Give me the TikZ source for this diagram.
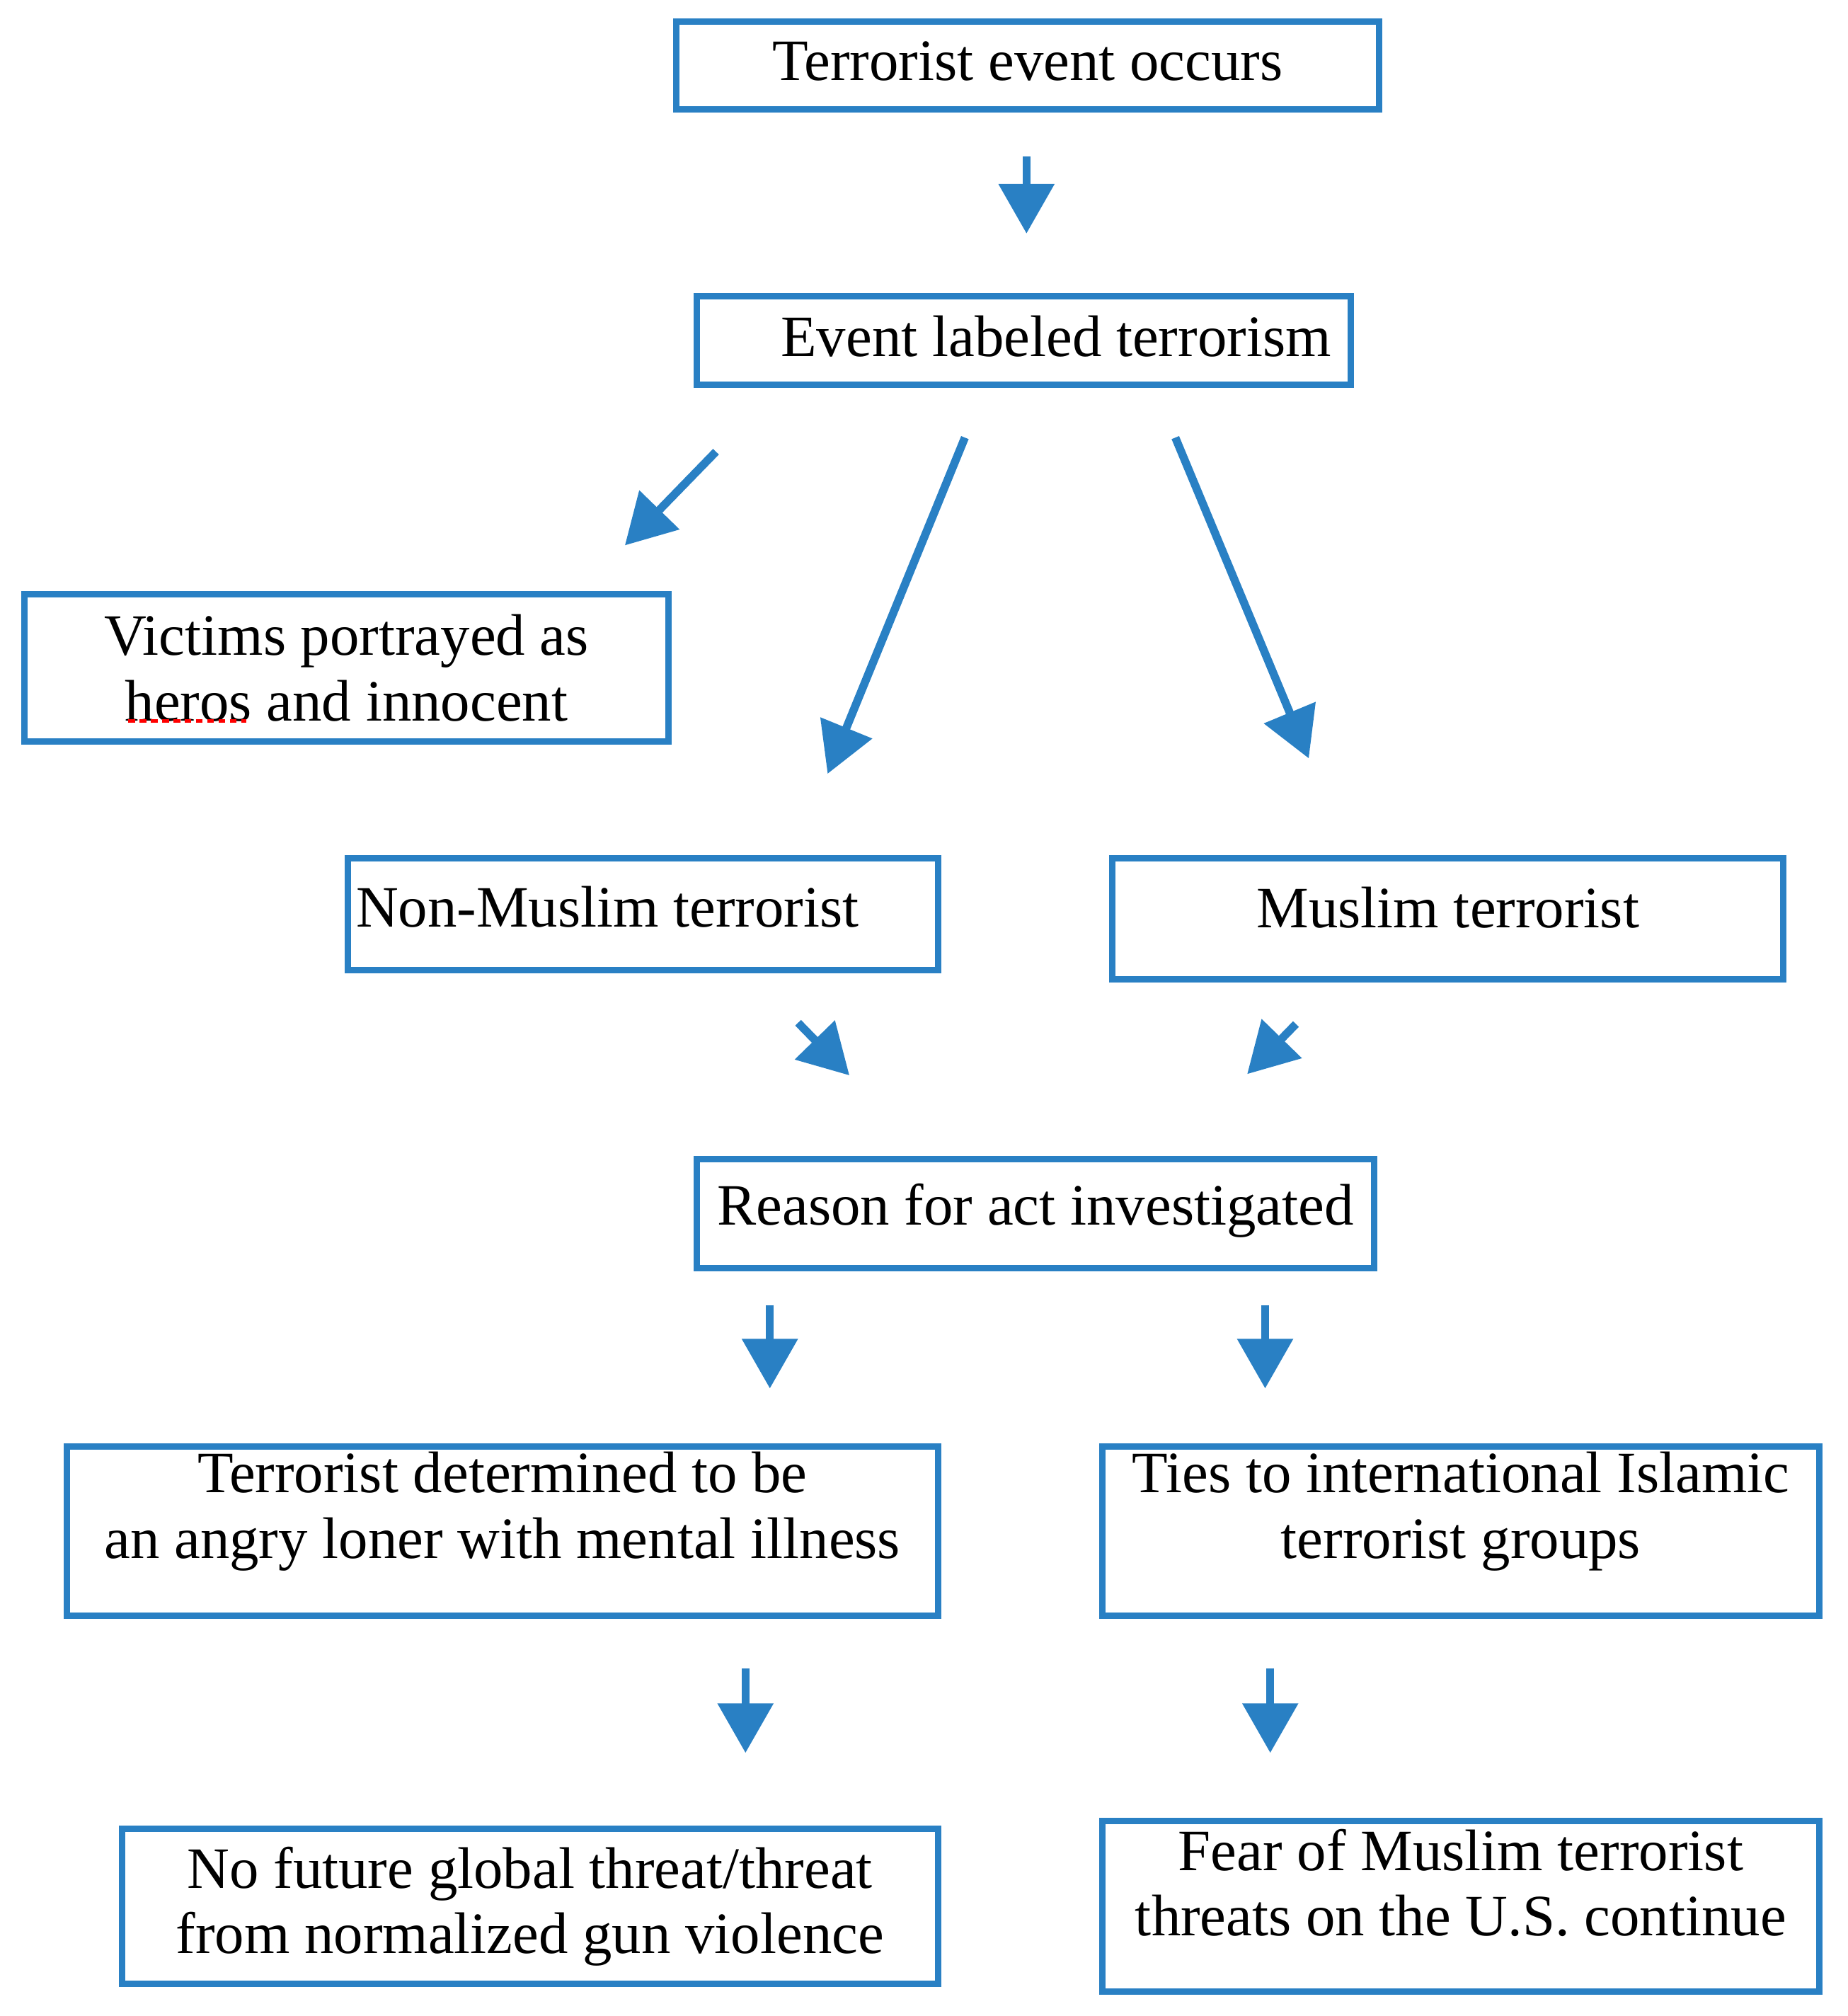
\documentclass[tikz,border=0pt]{standalone}
\usepackage{fontspec}
\setmainfont{Liberation Serif}
\usetikzlibrary{arrows.meta}
\definecolor{bl}{RGB}{41,128,196}
\begin{document}
\begin{tikzpicture}[x=0.02cm,y=-0.02cm,
  box/.style={draw=bl,line width=2.8pt,inner sep=0pt,align=center,font=\fontsize{26}{29}\selectfont},
  arr/.style={draw=bl,line width=3.6pt,-{Triangle[length=22pt,width=24pt]}}]
\useasboundingbox (0,0) rectangle (1440,1571);
\node[box,minimum width=10.96cm,minimum height=1.36cm] (b1) at (801,51) {\raisebox{4pt}{Terrorist event occurs}};
\node[box,minimum width=10.2cm,minimum height=1.38cm] (b2) at (798,265.5) {\raisebox{4pt}{\hspace{1cm}Event labeled terrorism}};
\node[box,minimum width=10.04cm,minimum height=2.3cm] (b3) at (270,520.5) {Victims portrayed as\\heros and innocent};
\node[box,minimum width=9.2cm,minimum height=1.74cm] (b4) at (501,712.5) {\raisebox{7pt}{Non-Muslim terrorist\hspace{1.1cm}}};
\node[box,minimum width=10.46cm,minimum height=1.88cm] (b5) at (1128.5,716) {\raisebox{10pt}{Muslim terrorist}};
\node[box,minimum width=10.56cm,minimum height=1.7cm] (b6) at (807,945.5) {\raisebox{8pt}{Reason for act investigated}};
\node[box,minimum width=13.58cm,minimum height=2.64cm] (b7) at (391.5,1193) {Terrorist determined to be\\an angry loner with mental illness\\[-6pt]};
\node[box,minimum width=11.18cm,minimum height=2.64cm] (b8) at (1138.5,1193) {Ties to international Islamic\\terrorist groups\\[-6pt]};
\node[box,minimum width=12.72cm,minimum height=2.42cm] (b9) at (413,1485.5) {No future global threat/threat\\from normalized gun violence};
\node[box,minimum width=11.18cm,minimum height=2.66cm] (b10) at (1138.5,1485.5) {Fear of Muslim terrorist\\threats on the U.S. continue\\[-8pt]};
\draw[red,line width=1.5pt,dash pattern=on 3pt off 2pt] (100,562) coordinate (u1) -- (192,562) coordinate (u2);
\foreach \n/\a/\b/\c/\d in {1/800/122/800/182,2/558/352/487/425,3/752/341/645/603,4/916/341/1020/591,5/622/797/662/838,6/1010/798/972/837,7/600/1017/600/1082,8/986/1017/986/1082,9/581/1300/581/1366,10/990/1300/990/1366}{
  \coordinate (s\n) at (\a,\b); \coordinate (e\n) at (\c,\d);
  \draw[arr] (s\n) -- (e\n);}
\end{tikzpicture}
\end{document}
